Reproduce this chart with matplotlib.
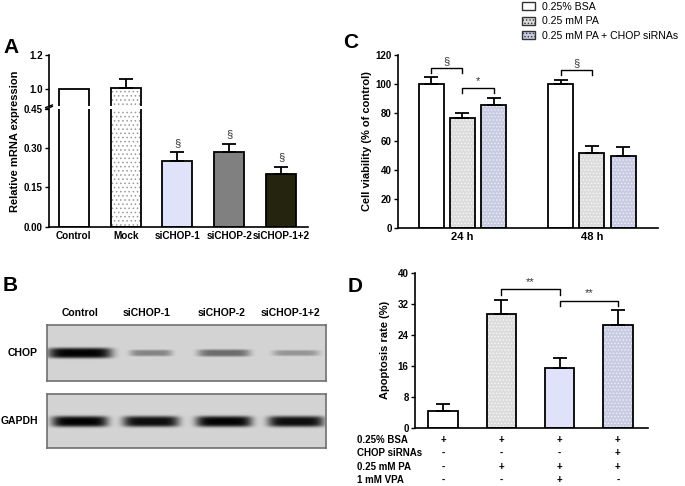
import numpy as np
import matplotlib
matplotlib.use("Agg")
import matplotlib.pyplot as plt
import matplotlib.patches as mpatches
import matplotlib.transforms as mtrans

plt.rcParams['font.family'] = ['Liberation Sans', 'DejaVu Sans']
plt.rcParams['hatch.linewidth'] = 0.6

# ---- panel A: relative mRNA expression
a_labels = ['Control', 'Mock', 'siCHOP-1', 'siCHOP-2', 'siCHOP-1+2']
a_values = [1.0, 1.005, 0.249, 0.283, 0.201]
a_errors = [0.0, 0.055, 0.035, 0.034, 0.028]
a_sig = ['', '', '§', '§', '§']

# ---- panel B: western blot band strength (relative)
b_lanes = ['Control', 'siCHOP-1', 'siCHOP-2', 'siCHOP-1+2']
b_chop = [1.0, 0.38, 0.5, 0.3]
b_gapdh = [1.0, 0.95, 1.0, 0.95]

# ---- panel C: cell viability
c_groups = ['24 h', '48 h']
c_series = ['0.25% BSA', '0.25 mM PA', '0.25 mM PA + CHOP siRNAs']
c_bsa = [100, 100]
c_bsa_err = [4.8, 2.3]
c_pa = [76, 51.6]
c_pa_err = [3.6, 5.4]
c_sirna = [85.4, 50]
c_sirna_err = [4.9, 5.8]
# (group, bar i, bar j, level, label)
c_brackets = [(0, 0, 1, 111, '§'), (0, 1, 2, 97, '*'), (1, 0, 1, 109.5, '§')]

# ---- panel D: apoptosis rate
d_values = [4.4, 29.3, 15.3, 26.6]
d_errors = [1.8, 3.7, 2.6, 3.8]
d_rows = ['0.25% BSA', 'CHOP siRNAs', '0.25 mM PA', '1 mM VPA']
d_signs = [['+', '+', '+', '+'],
           ['-', '-', '-', '+'],
           ['-', '+', '+', '+'],
           ['-', '-', '+', '-']]
d_brackets = [(1, 2, 35.7, '**'), (2, 3, 32.8, '**')]

W, H = 685, 486
fig = plt.figure(figsize=(W / 100, H / 100), dpi=100)


def box(x0, y0, x1, y1):
    # pixel box (top-left origin) -> figure fraction rect
    return [x0 / W, 1 - y1 / H, (x1 - x0) / W, (y1 - y0) / H]


def bars(ax, x, vals, width, face, hatch=None, hcolor=None):
    ax.bar(x, vals, width, color=face, linewidth=0, zorder=2)
    if hatch:
        ax.bar(x, vals, width, facecolor='none', edgecolor=hcolor, hatch=hatch,
               linewidth=0, zorder=2.1)
    ax.bar(x, vals, width, facecolor='none', edgecolor='black', linewidth=1.3, zorder=2.2)


def errs(ax, x, vals, e):
    ax.errorbar(x, vals, yerr=[[0], [e]], fmt='none', ecolor='black',
                elinewidth=1.3, capsize=5, capthick=1.3, zorder=3)


def style(ax, xsize=8):
    for s in ['top', 'right']:
        ax.spines[s].set_visible(False)
    for s in ['left', 'bottom']:
        ax.spines[s].set_linewidth(1.2)
    ax.tick_params(axis='y', length=3, width=1, labelsize=7, pad=1.5)
    ax.tick_params(axis='x', length=0, labelsize=xsize, pad=3)
    for t in ax.get_yticklabels() + ax.get_xticklabels():
        t.set_fontweight('bold')


# ================= panel A =================
a_face = ['white', 'white', '#dfe2f8', '#808080', '#25240f']
a_hatch = [None, '....', None, None, None]
ax_lo = fig.add_axes(box(49, 108.7, 308, 226.7))
ax_hi = fig.add_axes(box(49, 55, 308, 106))
xa = np.arange(len(a_labels))
for ax in (ax_lo, ax_hi):
    for i in range(len(a_labels)):
        bars(ax, xa[i], a_values[i], 0.58, a_face[i], a_hatch[i], '#9a9a9a')
        if a_errors[i] > 0:
            errs(ax, xa[i], a_values[i], a_errors[i])
    ax.set_xlim(-0.48, 4.52)
ax_lo.set_ylim(0, 0.45)
ax_lo.set_yticks([0, 0.15, 0.30, 0.45])
ax_lo.set_yticklabels(['0.00', '0.15', '0.30', '0.45'])
ax_lo.set_xticks(xa)
ax_lo.set_xticklabels(a_labels)
ax_hi.set_ylim(0.9, 1.2)
ax_hi.set_yticks([1.0, 1.2])
ax_hi.set_yticklabels(['1.0', '1.2'])
ax_hi.set_xticks([])
style(ax_lo, xsize=7.2)
style(ax_hi)
ax_hi.spines['bottom'].set_visible(False)
for i in range(len(a_labels)):
    if a_sig[i]:
        ax_lo.annotate(a_sig[i], (xa[i], a_values[i] + a_errors[i]), xytext=(0, 3),
                       textcoords='offset points', ha='center', va='bottom',
                       fontsize=8, color='#333333')
# axis break marks
ax_lo.plot([-0.013, 0.013], [0.995, 1.02], transform=ax_lo.transAxes, color='k',
           lw=1, clip_on=False)
ax_hi.plot([-0.013, 0.013], [-0.03, 0.02], transform=ax_hi.transAxes, color='k',
           lw=1, clip_on=False)
fig.text(15 / W, 1 - 141 / H, 'Relative mRNA expression', rotation=90, ha='center',
         va='center', fontsize=8, fontweight='bold')

# ================= panel B =================
bw, bh = 279, 56
lane_x = [33, 104, 177, 249]
band_hw = [[32, 21, 26, 23], [28, 28, 28, 28]]
xx, yy = np.meshgrid(np.arange(bw) + 0.5, np.arange(bh) + 0.5)
for k, (levels, rect, name, namex) in enumerate([
        (b_chop, box(47, 325, 326, 380.7), 'CHOP', 23),
        (b_gapdh, box(47, 394.3, 326, 448.3), 'GAPDH', 19)]):
    axb = fig.add_axes(rect)
    img = np.full((bh, bw), 0.83)
    for c, hw, lv in zip(lane_x, band_hw[k], levels):
        sig = 2.0 + 3.2 * lv if k == 0 else 5.5
        yc = 28 if k == 0 else 29
        img -= 0.82 * lv * np.exp(-((xx - c) / hw) ** 6) * np.exp(-((yy - yc) / sig) ** 4)
    axb.imshow(np.clip(img, 0, 1), cmap='gray', vmin=0, vmax=1, aspect='auto',
               extent=(0, bw, bh, 0), interpolation='bilinear')
    axb.set_xticks([])
    axb.set_yticks([])
    for s in axb.spines.values():
        s.set_color('#707070')
        s.set_linewidth(1.2)
    axb.text((namex - 47) / bw, 0.5, name, transform=axb.transAxes, ha='center',
             va='center', fontsize=7.5, fontweight='bold')
    if k == 0:
        for lab, cx in zip(b_lanes, [33, 100, 175, 243]):
            axb.text(cx, -12, lab, ha='center', va='center', fontsize=7.5,
                     fontweight='bold', clip_on=False)

# ================= panel C =================
axc = fig.add_axes(box(398, 55, 658, 227.7))
xc = np.arange(len(c_groups))
off = 0.24
cw = 0.193
c_vals = [c_bsa, c_pa, c_sirna]
c_errs = [c_bsa_err, c_pa_err, c_sirna_err]
c_face = ['white', '#dcdcdc', '#c9cbe2']
c_hatch = [None, '.....', '.....']
c_hcol = [None, '#f7f7f7', '#eeeff8']
for j in range(3):
    for g in range(len(c_groups)):
        x = xc[g] + (j - 1) * off
        bars(axc, x, c_vals[j][g], cw, c_face[j], c_hatch[j], c_hcol[j])
        errs(axc, x, c_vals[j][g], c_errs[j][g])
for g, i, j, lvl, lab in c_brackets:
    x1 = xc[g] + (i - 1) * off
    x2 = xc[g] + (j - 1) * off
    axc.plot([x1, x1, x2, x2], [lvl - 3.3, lvl, lvl, lvl - 3.3], color='k', lw=1)
    axc.text((x1 + x2) / 2, lvl + 1.5, lab, ha='center', va='bottom', fontsize=8,
             color='#333333')
axc.set_xlim(-0.498, 1.51)
axc.set_ylim(0, 120)
axc.set_yticks(range(0, 121, 20))
axc.set_xticks(xc)
axc.set_xticklabels(c_groups)
style(axc)
axc.set_ylabel('Cell viability (% of control)', fontsize=8, fontweight='bold')
axc.yaxis.set_label_coords(-0.1, 0.5)
handles = [mpatches.Patch(facecolor=c_face[j], edgecolor='#333333', hatch=c_hatch[j],
                          linewidth=1) for j in range(3)]
fig.legend(handles, c_series, loc='upper left', bbox_to_anchor=(520 / W, 1 - 0 / H),
           frameon=False, fontsize=7.6, handlelength=1.2, handleheight=0.8,
           handletextpad=0.7, labelspacing=0.4, borderaxespad=0.1, borderpad=0.1)

# ================= panel D =================
axd = fig.add_axes(box(415, 272.7, 648, 427.7))
xd = np.arange(len(d_values))
d_face = ['white', '#dcdcdc', '#dfe2f8', '#c9cbe2']
d_hatch = [None, '.....', None, '.....']
d_hcol = [None, '#f7f7f7', None, '#eeeff8']
for i in range(len(d_values)):
    bars(axd, xd[i], d_values[i], 0.506, d_face[i], d_hatch[i], d_hcol[i])
    errs(axd, xd[i], d_values[i], d_errors[i])
for i, j, lvl, lab in d_brackets:
    axd.plot([xd[i], xd[i], xd[j], xd[j]], [lvl - 1.5, lvl, lvl, lvl - 1.5], color='k', lw=1)
    axd.text((xd[i] + xd[j]) / 2, lvl + 0.6, lab, ha='center', va='bottom', fontsize=8,
             color='#333333')
axd.set_xlim(-0.48, 3.516)
axd.set_ylim(0, 40)
axd.set_yticks(range(0, 41, 8))
axd.set_xticks([])
style(axd)
axd.set_ylabel('Apoptosis rate (%)', fontsize=8, fontweight='bold')
axd.yaxis.set_label_coords(-0.107, 0.5)
tr = mtrans.blended_transform_factory(axd.transData, axd.transAxes)
for r, (name, signs) in enumerate(zip(d_rows, d_signs)):
    yy_ax = -(12.3 + 13.3 * r) / 155
    axd.text(-0.249, yy_ax, name, transform=axd.transAxes, ha='left', va='center',
             fontsize=7, fontweight='bold')
    for i, s in enumerate(signs):
        axd.text(xd[i], yy_ax, s, transform=tr, ha='center', va='center',
                 fontsize=7, fontweight='bold')

# panel letters
for lab, x, y in [('A', 3, 47), ('B', 3, 285), ('C', 343, 43), ('D', 348, 286)]:
    fig.text(x / W, 1 - y / H, lab, fontsize=15, fontweight='bold', ha='left', va='center')

fig.savefig('out.png', dpi=100)
